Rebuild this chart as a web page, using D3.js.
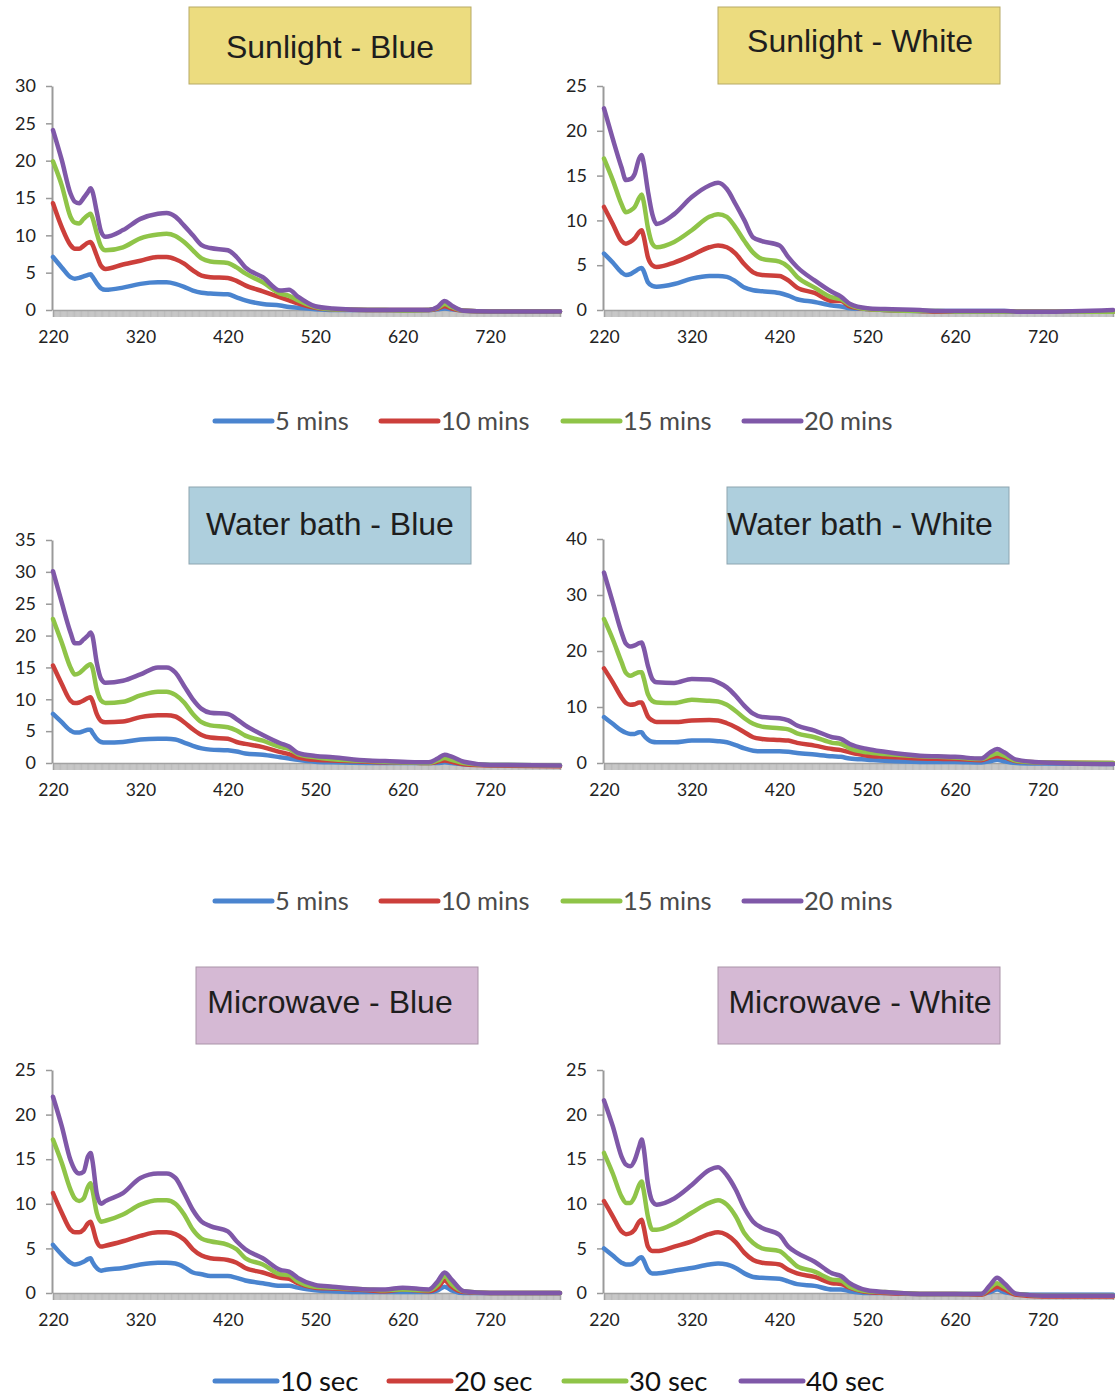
<!DOCTYPE html>
<html>
<head>
<meta charset="utf-8">
<script src="https://cdn.jsdelivr.net/npm/d3@7"></script>
<style>
  body { margin: 0; background: #fff; }
  svg { display: block; }
</style>
</head>
<body>
<div id="chart"></div>
<script>
// wavelengths (nm) shared by every spectrum
const wavelengths = [220, 230, 240, 245, 250, 255, 260, 263, 265, 270, 275, 280, 300, 320, 340, 350, 360, 370, 380, 390,
  400, 420, 430, 440, 460, 480, 490, 500, 520, 540, 580, 600, 620, 650, 660, 668, 676, 690, 720, 800];

const minsLabels = ["5 mins", "10 mins", "15 mins", "20 mins"];
const secLabels = ["10 sec", "20 sec", "30 sec", "40 sec"];
const seriesColors = ["#4a84cf", "#cc3f3b", "#8fc448", "#7f58a8"];
const xTickLabels = [220, 320, 420, 520, 620, 720];

// series order: blue, red, green, purple
const sunlightBlue = [
  [7.1,5.7,4.4,4.2,4.3,4.5,4.7,4.8,4.5,3.6,2.9,2.7,3.0,3.5,3.7,3.7,3.5,3.1,2.6,2.3,2.2,2.1,1.7,1.3,0.8,0.6,0.4,0.3,0.1,0,0,0,0,0,0.1,0.2,0.1,-0.1,-0.2,-0.2],
  [14.3,11.1,8.7,8.2,8.2,8.6,9.0,9.1,8.8,7.3,5.9,5.5,6.1,6.6,7.1,7.1,6.8,6.2,5.3,4.6,4.4,4.3,3.9,3.3,2.5,1.7,1.3,0.9,0.3,0.1,0,0,0,0,0.2,0.5,0.2,-0.1,-0.2,-0.2],
  [19.9,16.7,12.5,11.7,11.6,12.2,12.7,12.9,12.4,10.3,8.5,8.0,8.4,9.6,10.1,10.2,9.9,9.1,8.0,6.9,6.5,6.3,5.7,4.9,3.7,2.2,1.9,1.3,0.4,0.1,0,0,-0.1,0,0.3,0.8,0.4,-0.1,-0.2,-0.2],
  [24.1,20.1,15.6,14.5,14.3,15.0,15.8,16.3,15.9,13.2,10.5,9.8,10.7,12.2,12.9,13.0,12.5,11.3,10.0,8.7,8.3,8.0,7.1,5.7,4.4,2.6,2.7,1.8,0.5,0.2,0,0,0,0,0.4,1.2,0.6,-0.1,-0.2,-0.2]
];
const sunlightWhite = [
  [6.3,5.3,4.2,3.9,4.0,4.3,4.6,4.7,4.4,3.1,2.7,2.6,2.9,3.5,3.8,3.8,3.7,3.2,2.5,2.2,2.1,1.9,1.6,1.2,0.9,0.5,0.4,0.2,0.1,0,-0.1,-0.1,-0.1,-0.1,-0.1,-0.1,-0.1,-0.2,-0.2,-0.2],
  [11.5,9.6,7.7,7.4,7.6,8.0,8.7,8.9,8.3,5.9,5.0,4.8,5.3,6.1,7.0,7.2,7.0,6.3,5.1,4.2,3.9,3.8,3.3,2.5,1.9,1.0,1.0,0.4,0.1,0,-0.1,-0.2,-0.2,-0.2,-0.2,-0.2,-0.2,-0.2,-0.2,-0.2],
  [16.9,14.5,11.8,10.9,11.1,11.5,12.5,12.9,12.2,9.2,7.4,7.0,7.6,8.9,10.4,10.7,10.4,9.2,7.7,6.4,5.7,5.4,4.8,3.7,2.5,1.4,1.2,0.6,0.1,0,-0.1,-0.1,-0.2,-0.2,-0.2,-0.2,-0.2,-0.2,-0.2,-0.2],
  [22.5,19.1,15.9,14.5,14.6,15.2,16.9,17.3,16.5,13.3,10.7,9.6,10.7,12.6,13.9,14.2,13.5,11.8,10.0,8.1,7.7,7.2,5.9,4.8,3.3,2.0,1.5,0.7,0.2,0.1,0,-0.1,-0.1,-0.1,-0.1,-0.1,-0.1,-0.2,-0.2,0]
];
const waterBlue = [
  [7.7,6.4,5.1,4.8,4.8,5.0,5.2,5.2,4.8,3.8,3.3,3.2,3.3,3.7,3.8,3.8,3.7,3.2,2.7,2.3,2.1,2.0,1.8,1.5,1.3,0.9,0.7,0.5,0.2,0.1,0,0,0,0,0,0.1,0,-0.2,-0.3,-0.4],
  [15.3,12.4,9.8,9.4,9.5,9.8,10.2,10.3,9.8,7.7,6.6,6.4,6.5,7.2,7.5,7.5,7.3,6.4,5.3,4.4,4.0,3.8,3.3,3.0,2.5,1.7,1.4,0.9,0.5,0.4,0.2,0.1,0.1,0,0.2,0.4,0.2,-0.2,-0.4,-0.5],
  [22.6,18.9,15.0,13.9,14.1,14.7,15.3,15.5,15.0,11.6,9.8,9.4,9.6,10.6,11.2,11.2,10.7,9.5,7.7,6.4,5.9,5.6,5.1,4.3,3.5,2.5,2.2,1.4,0.9,0.6,0.3,0.2,0.1,0,0.4,0.8,0.5,0,-0.3,-0.4],
  [30.1,25.2,20.5,18.8,18.8,19.4,20.0,20.5,20.0,15.8,13.2,12.6,12.9,13.9,15.0,15.0,14.2,12.1,10.0,8.5,7.9,7.7,6.9,5.9,4.4,3.1,2.6,1.6,1.1,0.9,0.4,0.3,0.2,0.1,0.7,1.3,1.0,0.2,-0.3,-0.4]
];
const waterWhite = [
  [8.2,7.0,5.8,5.4,5.2,5.2,5.5,5.5,5.0,4.2,3.8,3.7,3.7,4.0,4.0,3.9,3.7,3.2,2.6,2.2,2.1,2.1,2.0,1.8,1.5,1.2,1.1,0.8,0.6,0.4,0.2,0.2,0.2,0.1,0.3,0.6,0.3,0,-0.1,-0.2],
  [16.9,14.4,11.7,10.7,10.4,10.5,10.8,10.8,10.2,8.3,7.6,7.3,7.3,7.6,7.7,7.6,7.1,6.4,5.5,4.6,4.3,4.1,4.0,3.6,3.1,2.5,2.3,1.9,1.3,1.1,0.8,0.75,0.7,0.5,1.0,1.2,1.0,0.3,0.1,0],
  [25.7,22.1,18.0,16.1,15.6,15.9,16.2,16.2,15.3,12.3,11.1,10.8,10.7,11.3,11.1,11.0,10.4,9.3,8.0,7.0,6.5,6.2,6.0,5.3,4.6,3.6,3.4,2.6,1.9,1.6,1.2,1.1,1.0,0.7,1.3,1.7,1.3,0.4,0.1,0],
  [34.0,28.7,23.3,21.3,20.8,21.0,21.4,21.5,20.7,17.4,15.0,14.4,14.3,15.0,14.9,14.4,13.5,12.0,10.2,8.8,8.2,8.0,7.6,6.7,5.8,4.6,4.3,3.4,2.5,2.0,1.3,1.2,1.1,0.8,1.9,2.5,1.9,0.6,0.1,-0.2]
];
const microwaveBlue = [
  [5.4,4.3,3.4,3.2,3.3,3.5,3.8,3.9,3.5,2.8,2.5,2.6,2.8,3.2,3.4,3.4,3.3,2.9,2.3,2.1,1.9,1.9,1.7,1.4,1.1,0.8,0.8,0.6,0.3,0.2,0.1,0.1,0.1,0.1,0.3,0.7,0.3,0,0,0],
  [11.2,9.0,7.1,6.8,6.8,7.1,7.8,8.0,7.5,5.8,5.2,5.3,5.8,6.4,6.8,6.8,6.6,6.0,4.9,4.2,3.9,3.7,3.4,2.8,2.3,1.7,1.6,1.1,0.6,0.5,0.3,0.2,0.4,0.2,0.6,1.4,0.7,0.1,0,0],
  [17.2,14.6,11.6,10.6,10.3,10.6,11.9,12.3,11.6,9.0,8.0,8.1,8.8,9.9,10.4,10.4,10.0,8.8,7.1,6.1,5.8,5.4,4.9,3.9,3.2,2.1,2.0,1.3,0.7,0.6,0.4,0.3,0.4,0.3,0.9,1.9,1.0,0.2,0,0],
  [22.0,18.7,14.9,13.8,13.4,13.6,15.3,15.7,14.9,11.2,10.0,10.3,11.2,12.9,13.4,13.4,12.9,11.2,9.3,8.0,7.5,6.9,5.8,4.9,3.9,2.6,2.4,1.7,0.9,0.7,0.4,0.4,0.6,0.4,1.3,2.3,1.5,0.2,0,0]
];
const microwaveWhite = [
  [5.0,4.2,3.4,3.2,3.2,3.4,3.9,4.0,3.7,2.6,2.2,2.2,2.5,2.8,3.2,3.3,3.2,2.8,2.2,1.8,1.7,1.6,1.3,1.0,0.8,0.4,0.4,0.2,0,0,-0.1,-0.1,-0.1,-0.1,0.1,0.4,0.1,-0.1,-0.2,-0.2],
  [10.3,8.6,6.9,6.6,6.7,7.1,8.0,8.2,7.5,5.2,4.7,4.7,5.2,5.8,6.6,6.8,6.5,5.7,4.5,3.7,3.4,3.2,2.6,2.2,1.8,1.1,1.0,0.6,0.1,0,-0.1,-0.1,-0.1,-0.2,0.3,0.7,0.4,-0.2,-0.4,-0.4],
  [15.7,13.4,10.8,10.1,10.1,10.8,12.1,12.5,11.6,8.6,7.1,7.1,7.8,9.0,10.1,10.4,9.9,8.6,6.7,5.6,5.0,4.7,3.9,3.0,2.4,1.5,1.4,0.7,0.2,0.1,-0.1,-0.1,-0.1,-0.1,0.6,1.1,0.7,-0.1,-0.3,-0.3],
  [21.6,18.7,15.3,14.4,14.2,14.9,16.4,17.2,16.4,12.3,10.3,9.9,10.6,12.1,13.8,14.1,13.2,11.6,9.5,8.0,7.3,6.5,5.2,4.5,3.5,2.2,1.9,1.1,0.3,0.1,-0.1,-0.1,-0.1,-0.1,0.9,1.7,1.1,-0.1,-0.3,-0.3]
];

// layout of the six panels
const panels = [
  { title: "Sunlight - Blue", series: sunlightBlue, yMax: 30, yStep: 5, left: 53, right: 560, top: 86, bottom: 310,
    box: [189, 7, 282, 77], fill: "#ecdc7f", edge: "#b7aa66", tx: 330, ty: 58 },
  { title: "Sunlight - White", series: sunlightWhite, yMax: 25, yStep: 5, left: 604, right: 1113, top: 86, bottom: 310,
    box: [718, 7, 282, 77], fill: "#ecdc7f", edge: "#b7aa66", tx: 860, ty: 52 },
  { title: "Water bath - Blue", series: waterBlue, yMax: 35, yStep: 5, left: 53, right: 560, top: 540, bottom: 763,
    box: [189, 487, 282, 77], fill: "#aecfdd", edge: "#8da5b0", tx: 330, ty: 535 },
  { title: "Water bath - White", series: waterWhite, yMax: 40, yStep: 10, left: 604, right: 1113, top: 539, bottom: 763,
    box: [727, 487, 282, 77], fill: "#aecfdd", edge: "#8da5b0", tx: 860, ty: 535 },
  { title: "Microwave - Blue", series: microwaveBlue, yMax: 25, yStep: 5, left: 53, right: 560, top: 1070, bottom: 1293,
    box: [196, 967, 282, 77], fill: "#d5b9d4", edge: "#a993a8", tx: 330, ty: 1013 },
  { title: "Microwave - White", series: microwaveWhite, yMax: 25, yStep: 5, left: 604, right: 1113, top: 1070, bottom: 1293,
    box: [718, 967, 282, 77], fill: "#d5b9d4", edge: "#a993a8", tx: 860, ty: 1013 }
];

const legends = [
  { labels: minsLabels, y: 421, size: 25.5, color: "#4a4a4a", lines: [215, 381, 563, 744], len: 57 },
  { labels: minsLabels, y: 901, size: 25.5, color: "#4a4a4a", lines: [215, 381, 563, 744], len: 57 },
  { labels: secLabels, y: 1381, size: 27.5, color: "#111", lines: [215, 389, 564, 741], len: 62 }
];

const width = 1115, height = 1396;
const svg = d3.select("#chart").append("svg")
  .attr("width", width)
  .attr("height", height)
  .style("font-family", "Lato, 'Open Sans', sans-serif");

const fineTicks = d3.range(220, 801, 1);

panels.forEach((p) => {
  const x = d3.scaleLinear().domain([220, 800]).range([p.left, p.right]);
  const y = d3.scaleLinear().domain([0, p.yMax]).range([p.bottom, p.top]);
  const g = svg.append("g");

  // title box
  g.append("rect")
    .attr("x", p.box[0]).attr("y", p.box[1])
    .attr("width", p.box[2]).attr("height", p.box[3])
    .attr("fill", p.fill).attr("stroke", p.edge).attr("stroke-width", 1);
  g.append("text")
    .attr("x", p.tx).attr("y", p.ty)
    .attr("text-anchor", "middle")
    .attr("font-family", "'Liberation Sans', Arial, sans-serif")
    .attr("font-size", 32)
    .attr("fill", "#1e1e1e")
    .text(p.title);

  // x axis: one tick per nm gives the dense grey comb under the baseline
  const xAxis = g.append("g")
    .attr("transform", `translate(0,${p.bottom})`)
    .call(d3.axisBottom(x).tickValues(fineTicks).tickSize(7).tickPadding(14)
      .tickFormat((d) => (xTickLabels.includes(d) ? d : "")));
  xAxis.select(".domain").attr("stroke", "#9a9a9a").attr("stroke-width", 1.5);
  xAxis.selectAll(".tick line").attr("stroke", "#a8a8a8").attr("stroke-width", 0.7);
  xAxis.selectAll(".tick text").attr("font-size", 17.5).attr("fill", "#222").attr("font-family", "Lato, sans-serif");

  // y axis
  const yAxis = g.append("g")
    .attr("transform", `translate(${p.left - 1},0)`)
    .call(d3.axisLeft(y).tickValues(d3.range(0, p.yMax + 0.1, p.yStep)).tickSize(6).tickPadding(10).tickSizeOuter(0));
  yAxis.select(".domain").attr("stroke", "#9a9a9a").attr("stroke-width", 2);
  yAxis.selectAll(".tick line").attr("stroke", "#9a9a9a").attr("stroke-width", 1.5);
  yAxis.selectAll(".tick text").attr("font-size", 18).attr("fill", "#222").attr("font-family", "Lato, sans-serif");

  // spectra
  const line = d3.line()
    .x((d, i) => x(wavelengths[i]))
    .y((d) => y(d))
    .curve(d3.curveMonotoneX);

  g.append("g")
    .selectAll("path")
    .data(p.series)
    .join("path")
    .attr("d", line)
    .attr("fill", "none")
    .attr("stroke", (d, i) => seriesColors[i])
    .attr("stroke-width", 4.5)
    .attr("stroke-linejoin", "round")
    .attr("stroke-linecap", "round");
});

// legends
legends.forEach((lg) => {
  const g = svg.append("g");
  lg.labels.forEach((label, i) => {
    g.append("line")
      .attr("x1", lg.lines[i]).attr("x2", lg.lines[i] + lg.len)
      .attr("y1", lg.y).attr("y2", lg.y)
      .attr("stroke", seriesColors[i])
      .attr("stroke-width", 5)
      .attr("stroke-linecap", "round");
    g.append("text")
      .attr("x", lg.lines[i] + lg.len + 3)
      .attr("y", lg.y)
      .attr("dy", "0.35em")
      .attr("font-size", lg.size)
      .attr("fill", lg.color)
      .text(label);
  });
});
</script>
</body>
</html>
